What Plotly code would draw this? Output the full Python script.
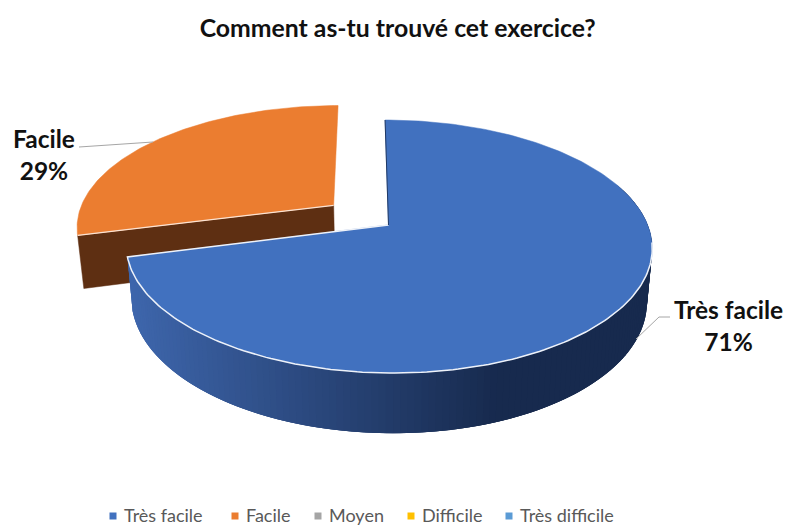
import math

import plotly.graph_objects as go

# chart data
TITLE = "Comment as-tu trouvé cet exercice?"
categories = ["Très facile", "Facile", "Moyen", "Difficile", "Très difficile"]
values = [71, 29, 0, 0, 0]
slice_colors = ["#4171BF", "#EB7D30", "#A5A5A5", "#FFC000", "#5B9BD5"]
wall_colors = ["#5E2F12"]

# 3D look of the pie, measured in page pixels
CX, CY = 388.5, 225
RX, RY = 259.2, 122.85
SKEW = -4
PERSP = 0.17
DEPTH = 52.5
BOTTOM_SCALE = 0.98
EXPLODE = {"Facile": (-0.215, 0.165)}
WALL_LEFT = (62, 102, 172)
WALL_RIGHT = (23, 42, 78)
RIM_COLOR = "#EEF2F9"

LEGEND_X = [113, 235, 318, 411, 509]
LEGEND_Y = 515


def project(u, v, low=False):
    s = 1 / (1 + PERSP * v)
    q = BOTTOM_SCALE if low else 1
    x = CX + q * (RX * u + SKEW * v) * s
    y = CY - q * RY * v * s + (DEPTH * s if low else 0)
    return x, y


def rim(start, end, offset, low=False, steps=120):
    pts = []
    for i in range(steps + 1):
        t = math.radians(start + (end - start) * i / steps)
        pts.append(project(offset[0] + math.sin(t), offset[1] + math.cos(t), low))
    return pts


def add_poly(fig, pts, color, width=0.5):
    fig.add_trace(go.Scatter(
        x=[p[0] for p in pts] + [pts[0][0]],
        y=[p[1] for p in pts] + [pts[0][1]],
        mode="lines", fill="toself", fillcolor=color,
        line=dict(color=color, width=width),
        hoverinfo="skip", showlegend=False,
    ))


def add_line(fig, pts, color, width):
    fig.add_trace(go.Scatter(
        x=[p[0] for p in pts], y=[p[1] for p in pts],
        mode="lines", line=dict(color=color, width=width),
        hoverinfo="skip", showlegend=False,
    ))


def wall_gradient(x):
    f = min(max((x - 130) / 370, 0), 1)
    rgb = [round(a + (b - a) * f) for a, b in zip(WALL_LEFT, WALL_RIGHT)]
    return "rgb({},{},{})".format(*rgb)


fig = go.Figure()

total = sum(values)
angles = {}
start = 0
for name, val in zip(categories, values):
    angles[name] = (start, start + 360 * val / total)
    start = angles[name][1]

# exploded orange slice first, the blue one sits in front of it
a0, a1 = angles["Facile"]
off = EXPLODE["Facile"]
corner = (off[0] + math.sin(math.radians(a0)), off[1] + math.cos(math.radians(a0)))
add_poly(fig, [project(*off), project(*corner), project(*corner, low=True), project(*off, low=True)], wall_colors[0])
add_poly(fig, [project(*off)] + rim(a0, a1, off), slice_colors[1])
add_line(fig, [project(*off), project(*corner)], "#FBE3D3", 1.2)

# blue slice: outer wall in overlapping segments for the gradient, then the top
a0, a1 = angles["Très facile"]
top_rim = rim(70, a1, (0, 0), steps=140)
low_rim = rim(70, a1, (0, 0), low=True, steps=140)
for i in range(len(top_rim) - 1):
    j = min(i + 3, len(top_rim) - 1)
    quad = [top_rim[i], top_rim[j], low_rim[j], low_rim[i]]
    add_poly(fig, quad, wall_gradient(top_rim[i][0]), width=0)
add_poly(fig, [project(0, 0)] + rim(a0, a1, (0, 0), steps=240), slice_colors[0])

# light edge where the top meets the wall, and the cut edge over the brown face
add_line(fig, rim(98, a1, (0, 0), steps=160) + [project(0, 0)], RIM_COLOR, 1.5)

# thin visible edge of the blue cut face
add_line(fig, [project(0, 0), project(0, 1)], "#1F3864", 1)

# leader lines
for xs, ys in [([79, 153], [147, 142]), ([670, 659, 636], [317, 317, 339])]:
    fig.add_trace(go.Scatter(
        x=xs, y=ys, mode="lines", line=dict(color="#A6A6A6", width=1),
        hoverinfo="skip", showlegend=False,
    ))

# legend squares and labels
fig.add_trace(go.Scatter(
    x=LEGEND_X, y=[LEGEND_Y + 1] * len(LEGEND_X), mode="markers",
    marker=dict(symbol="square", size=7, color=slice_colors),
    hoverinfo="skip", showlegend=False,
))
for name, x in zip(categories, LEGEND_X):
    fig.add_annotation(
        x=x + 11, y=LEGEND_Y, text=name, showarrow=False, xanchor="left",
        xshift=-1, borderpad=0, font=dict(family="Lato", size=18, color="#595959"),
    )

for name, val, x, y in [("Facile", values[1], 44, 154), ("Très facile", values[0], 728, 325)]:
    fig.add_annotation(
        x=x, y=y, text=f"<b>{name}<br>{val}%</b>", showarrow=False, align="center",
        font=dict(family="Lato", size=24.5, color="#111111"),
    )

fig.update_layout(
    width=786,
    height=528,
    margin=dict(l=0, r=0, t=0, b=0),
    paper_bgcolor="white",
    plot_bgcolor="white",
    title=dict(
        text=f"<b>{TITLE}</b>", x=0.506, xanchor="center", y=0.947, yanchor="middle",
        font=dict(family="Lato", size=24.8, color="#111111"),
    ),
    showlegend=False,
    xaxis=dict(range=[0, 786], visible=False, fixedrange=True),
    yaxis=dict(range=[528, 0], visible=False, fixedrange=True),
)

fig.write_html(
    "out.html",
    config={"displayModeBar": False},
    post_script="document.body.style.margin='0';",
)
